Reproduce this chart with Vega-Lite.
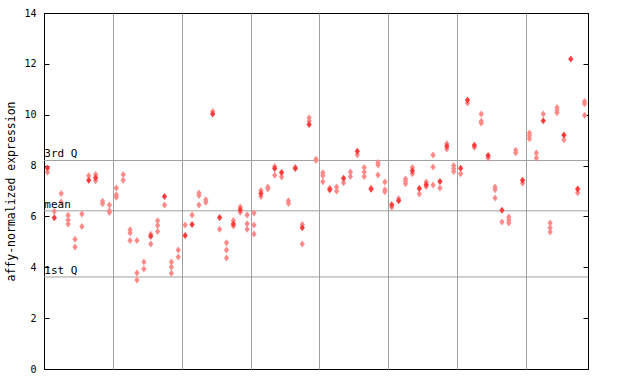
{
  "$schema": "https://vega.github.io/schema/vega-lite/v6.json",
  "autosize": {"type": "none"},
  "width": 544,
  "height": 356,
  "padding": {"left": 44, "top": 13, "right": 52, "bottom": 15},
  "background": "white",
  "config": {
    "view": {"stroke": "black", "strokeWidth": 1},
    "font": "DejaVu Sans Mono",
    "axis": {"labelFont": "DejaVu Sans Mono", "titleFont": "DejaVu Sans Mono", "labelFontSize": 10, "titleFontSize": 11.5, "labelFontWeight": "normal", "titleFontWeight": "normal", "labelColor": "black", "titleColor": "black", "domainColor": "black", "tickColor": "black"}
  },
  "datasets": {
    "pts": [
      {"s":0,"v":7.9,"t":"s"},{"s":0,"v":7.74,"t":"c"},
      {"s":1,"v":6.2,"t":"c"},{"s":1,"v":5.95,"t":"s"},
      {"s":2,"v":6.9,"t":"c"},{"s":2,"v":6.57,"t":"c"},
      {"s":3,"v":6.05,"t":"c"},{"s":3,"v":5.86,"t":"c"},{"s":3,"v":5.7,"t":"c"},
      {"s":4,"v":5.1,"t":"c"},{"s":4,"v":4.8,"t":"c"},
      {"s":5,"v":6.1,"t":"c"},{"s":5,"v":5.6,"t":"c"},
      {"s":6,"v":7.6,"t":"c"},{"s":6,"v":7.42,"t":"s"},
      {"s":7,"v":7.65,"t":"c"},{"s":7,"v":7.52,"t":"s"},{"s":7,"v":7.4,"t":"c"},
      {"s":8,"v":6.6,"t":"c"},{"s":8,"v":6.5,"t":"c"},
      {"s":9,"v":6.45,"t":"c"},{"s":9,"v":6.22,"t":"c"},{"s":9,"v":6.15,"t":"c"},
      {"s":10,"v":7.12,"t":"c"},{"s":10,"v":6.85,"t":"c"},{"s":10,"v":6.75,"t":"c"},
      {"s":11,"v":7.65,"t":"c"},{"s":11,"v":7.42,"t":"c"},
      {"s":12,"v":5.48,"t":"c"},{"s":12,"v":5.35,"t":"c"},{"s":12,"v":5.05,"t":"c"},
      {"s":13,"v":5.05,"t":"c"},{"s":13,"v":3.78,"t":"c"},{"s":13,"v":3.5,"t":"c"},
      {"s":14,"v":4.21,"t":"c"},{"s":14,"v":3.93,"t":"c"},
      {"s":15,"v":5.3,"t":"c"},{"s":15,"v":5.22,"t":"s"},{"s":15,"v":4.92,"t":"c"},
      {"s":16,"v":5.83,"t":"c"},{"s":16,"v":5.64,"t":"c"},{"s":16,"v":5.41,"t":"c"},
      {"s":17,"v":6.78,"t":"s"},{"s":17,"v":6.45,"t":"c"},
      {"s":18,"v":4.21,"t":"c"},{"s":18,"v":4.01,"t":"c"},{"s":18,"v":3.77,"t":"c"},
      {"s":19,"v":4.68,"t":"c"},{"s":19,"v":4.4,"t":"c"},
      {"s":20,"v":5.66,"t":"c"},{"s":20,"v":5.25,"t":"s"},
      {"s":21,"v":6.06,"t":"c"},{"s":21,"v":5.68,"t":"s"},
      {"s":22,"v":6.92,"t":"c"},{"s":22,"v":6.82,"t":"c"},{"s":22,"v":6.45,"t":"c"},
      {"s":23,"v":6.66,"t":"c"},{"s":23,"v":6.56,"t":"c"},
      {"s":24,"v":10.13,"t":"c"},{"s":24,"v":10.03,"t":"s"},
      {"s":25,"v":5.96,"t":"s"},{"s":25,"v":5.5,"t":"c"},
      {"s":26,"v":4.96,"t":"c"},{"s":26,"v":4.68,"t":"c"},{"s":26,"v":4.37,"t":"c"},
      {"s":27,"v":5.84,"t":"c"},{"s":27,"v":5.7,"t":"s"},{"s":27,"v":5.62,"t":"c"},
      {"s":28,"v":6.37,"t":"c"},{"s":28,"v":6.26,"t":"s"},{"s":28,"v":6.16,"t":"c"},
      {"s":29,"v":6.06,"t":"c"},{"s":29,"v":5.71,"t":"c"},{"s":29,"v":5.5,"t":"c"},
      {"s":30,"v":6.13,"t":"c"},{"s":30,"v":5.66,"t":"c"},{"s":30,"v":5.31,"t":"c"},
      {"s":31,"v":7.02,"t":"c"},{"s":31,"v":6.9,"t":"s"},{"s":31,"v":6.78,"t":"c"},
      {"s":32,"v":7.16,"t":"c"},{"s":32,"v":7.08,"t":"c"},
      {"s":33,"v":7.96,"t":"c"},{"s":33,"v":7.88,"t":"s"},{"s":33,"v":7.62,"t":"c"},
      {"s":34,"v":7.73,"t":"s"},{"s":34,"v":7.55,"t":"c"},
      {"s":35,"v":6.62,"t":"c"},{"s":35,"v":6.51,"t":"c"},
      {"s":36,"v":7.93,"t":"c"},{"s":36,"v":7.88,"t":"s"},
      {"s":37,"v":5.68,"t":"c"},{"s":37,"v":5.55,"t":"s"},{"s":37,"v":4.92,"t":"c"},
      {"s":38,"v":9.88,"t":"c"},{"s":38,"v":9.75,"t":"c"},{"s":38,"v":9.62,"t":"s"},
      {"s":39,"v":8.25,"t":"c"},{"s":39,"v":8.2,"t":"c"},
      {"s":40,"v":7.72,"t":"c"},{"s":40,"v":7.6,"t":"c"},{"s":40,"v":7.36,"t":"c"},
      {"s":41,"v":7.12,"t":"c"},{"s":41,"v":7.05,"t":"s"},
      {"s":42,"v":7.16,"t":"c"},{"s":42,"v":7.0,"t":"c"},
      {"s":43,"v":7.5,"t":"s"},{"s":43,"v":7.32,"t":"c"},
      {"s":44,"v":7.75,"t":"c"},{"s":44,"v":7.57,"t":"c"},
      {"s":45,"v":8.56,"t":"s"},{"s":45,"v":8.43,"t":"c"},
      {"s":46,"v":7.92,"t":"c"},{"s":46,"v":7.75,"t":"c"},{"s":46,"v":7.57,"t":"c"},
      {"s":47,"v":7.12,"t":"c"},{"s":47,"v":7.07,"t":"s"},
      {"s":48,"v":8.12,"t":"c"},{"s":48,"v":8.02,"t":"c"},{"s":48,"v":7.63,"t":"c"},
      {"s":49,"v":7.35,"t":"c"},{"s":49,"v":7.05,"t":"c"},{"s":49,"v":6.97,"t":"c"},
      {"s":50,"v":6.46,"t":"s"},{"s":50,"v":6.36,"t":"c"},
      {"s":51,"v":6.7,"t":"c"},{"s":51,"v":6.62,"t":"s"},
      {"s":52,"v":7.47,"t":"c"},{"s":52,"v":7.38,"t":"c"},{"s":52,"v":7.29,"t":"c"},
      {"s":53,"v":7.92,"t":"c"},{"s":53,"v":7.8,"t":"s"},{"s":53,"v":7.68,"t":"c"},
      {"s":54,"v":7.1,"t":"s"},{"s":54,"v":6.88,"t":"c"},
      {"s":55,"v":7.35,"t":"c"},{"s":55,"v":7.25,"t":"s"},{"s":55,"v":7.18,"t":"c"},
      {"s":56,"v":8.42,"t":"c"},{"s":56,"v":7.94,"t":"c"},{"s":56,"v":7.24,"t":"c"},
      {"s":57,"v":7.37,"t":"s"},{"s":57,"v":7.12,"t":"c"},
      {"s":58,"v":8.86,"t":"c"},{"s":58,"v":8.76,"t":"s"},{"s":58,"v":8.65,"t":"c"},
      {"s":59,"v":8.0,"t":"c"},{"s":59,"v":7.88,"t":"c"},{"s":59,"v":7.77,"t":"c"},
      {"s":60,"v":7.89,"t":"s"},{"s":60,"v":7.68,"t":"c"},
      {"s":61,"v":10.58,"t":"s"},{"s":61,"v":10.46,"t":"c"},
      {"s":62,"v":8.8,"t":"s"},{"s":62,"v":8.72,"t":"c"},
      {"s":63,"v":10.03,"t":"c"},{"s":63,"v":9.74,"t":"c"},{"s":63,"v":9.67,"t":"c"},
      {"s":64,"v":8.4,"t":"s"},{"s":64,"v":8.3,"t":"c"},
      {"s":65,"v":7.16,"t":"c"},{"s":65,"v":7.05,"t":"c"},{"s":65,"v":6.72,"t":"c"},
      {"s":66,"v":6.24,"t":"s"},{"s":66,"v":5.78,"t":"c"},
      {"s":67,"v":5.98,"t":"c"},{"s":67,"v":5.85,"t":"c"},{"s":67,"v":5.74,"t":"c"},
      {"s":68,"v":8.6,"t":"c"},{"s":68,"v":8.5,"t":"c"},
      {"s":69,"v":7.42,"t":"s"},{"s":69,"v":7.3,"t":"c"},
      {"s":70,"v":9.28,"t":"c"},{"s":70,"v":9.17,"t":"c"},{"s":70,"v":9.05,"t":"c"},
      {"s":71,"v":8.49,"t":"c"},{"s":71,"v":8.3,"t":"c"},
      {"s":72,"v":10.03,"t":"c"},{"s":72,"v":9.76,"t":"s"},
      {"s":73,"v":5.74,"t":"c"},{"s":73,"v":5.55,"t":"c"},{"s":73,"v":5.39,"t":"c"},
      {"s":74,"v":10.28,"t":"c"},{"s":74,"v":10.18,"t":"c"},{"s":74,"v":10.08,"t":"c"},
      {"s":75,"v":9.2,"t":"s"},{"s":75,"v":9.02,"t":"c"},
      {"s":76,"v":12.19,"t":"s"},
      {"s":77,"v":7.08,"t":"s"},{"s":77,"v":6.93,"t":"c"},
      {"s":78,"v":10.52,"t":"c"},{"s":78,"v":10.43,"t":"c"},{"s":78,"v":9.98,"t":"c"}
    ],
    "stats": [
      {"name": "3rd Q", "v": 8.2},
      {"name": "mean", "v": 6.22},
      {"name": "1st Q", "v": 3.62}
    ]
  },
  "resolve": {"axis": {"y": "independent"}},
  "layer": [
    {
      "data": {"name": "stats"},
      "mark": {"type": "rule", "color": "#a0a0a0", "strokeWidth": 1},
      "encoding": {
        "y": {"field": "v", "type": "quantitative", "scale": {"domain": [0, 14], "nice": false},
          "axis": {"orient": "left", "values": [0, 2, 4, 6, 8, 10, 12, 14], "grid": false, "ticks": true, "tickSize": -5, "labelPadding": 13, "title": "affy-normalized expression", "titlePadding": 7}}
      }
    },
    {
      "data": {"name": "pts"},
      "mark": {"type": "point", "filled": true, "shape": "M0,-1L0.75,0L0,1L-0.75,0Z", "size": 49, "strokeWidth": 0, "opacity": 1},
      "encoding": {
        "x": {"field": "s", "type": "quantitative",
          "scale": {"domain": [-0.5, 78.5], "nice": false, "zero": false},
          "axis": {"orient": "bottom", "values": [9.5, 19.5, 29.5, 39.5, 49.5, 59.5, 69.5], "grid": true, "gridColor": "#a0a0a0", "gridOpacity": 1, "labels": false, "ticks": false, "domain": false, "title": null}},
        "y": {"field": "v", "type": "quantitative",
          "axis": {"orient": "right", "values": [0, 2, 4, 6, 8, 10, 12, 14], "grid": false, "ticks": true, "tickSize": -5, "labels": false, "title": null}},
        "color": {"field": "t", "type": "nominal", "scale": {"domain": ["c", "s"], "range": ["#ff8a8a", "#ff3c3c"]}, "legend": null},
        "order": {"field": "t", "type": "nominal"}
      }
    },
    {
      "data": {"name": "stats"},
      "mark": {"type": "text", "align": "left", "baseline": "bottom", "dy": -1, "fontSize": 11, "font": "DejaVu Sans Mono", "color": "black"},
      "encoding": {
        "x": {"datum": -0.45, "type": "quantitative"},
        "y": {"field": "v", "type": "quantitative", "axis": null},
        "text": {"field": "name"}
      }
    }
  ]
}
